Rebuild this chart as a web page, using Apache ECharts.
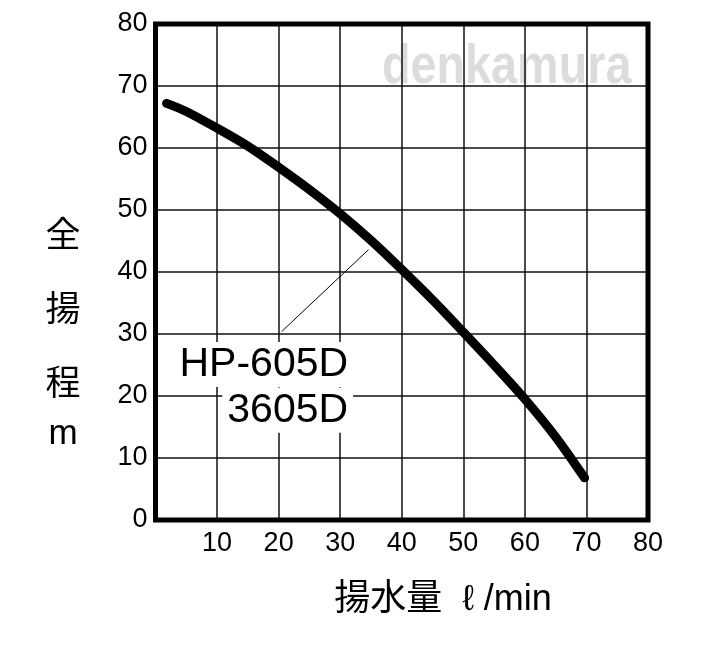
<!DOCTYPE html>
<html>
<head>
<meta charset="utf-8">
<script src="https://cdn.jsdelivr.net/npm/echarts@6/dist/echarts.min.js"></script>
<style>
  html, body { margin: 0; padding: 0; background: #fff; }
  #main { width: 720px; height: 648px; }
</style>
</head>
<body>
<div id="main"></div>
<script>
  // 揚水量 (l/min) と 全揚程 (m) の性能曲線
  const flowRates = [1.8, 5, 10, 15, 20, 25, 30, 35, 40, 45, 50, 55, 60, 65, 69.7];
  const headValues = [67.2, 65.9, 63.2, 60.3, 56.9, 53.3, 49.4, 45.1, 40.4, 35.5, 30.3, 25.0, 19.5, 13.4, 6.8];
  const axisTicks = [0, 10, 20, 30, 40, 50, 60, 70, 80];
  const modelLabels = ['HP-605D', '3605D'];
  const labelAnchors = [[32.1, 25.1], [32.1, 17.7]];
  const leaderLine = [[34.6, 43.6], [20.5, 30.4]];
  const yNameChars = ['全', '揚', '程', 'm'];
  const xName = '揚水量  ℓ /min';
  const watermark = 'denkamura';

  const numFont = 'Liberation Sans, Arial, sans-serif';
  const cjkFont = 'Liberation Sans, Noto Sans CJK JP, sans-serif';

  let myChart = echarts.init(document.getElementById('main'));

  let curve = flowRates.map((x, i) => [x, headValues[i]]);
  let yNameY = [237, 311, 385, 434];

  let option = {
    animation: false,
    backgroundColor: '#fff',
    grid: {
      left: 155.5,
      right: 72,
      top: 24,
      bottom: 128,
      show: true,
      borderColor: '#000',
      borderWidth: 5,
      z: 3
    },
    xAxis: {
      type: 'value',
      min: axisTicks[0],
      max: axisTicks[axisTicks.length - 1],
      interval: 10,
      axisLine: { show: false },
      axisTick: { show: false },
      axisLabel: {
        margin: 10,
        fontSize: 27,
        color: '#000',
        fontFamily: numFont,
        formatter: v => (v === 0 ? '' : String(v))
      },
      splitLine: { lineStyle: { color: '#111', width: 1.5 } }
    },
    yAxis: {
      type: 'value',
      min: axisTicks[0],
      max: axisTicks[axisTicks.length - 1],
      interval: 10,
      axisLine: { show: false },
      axisTick: { show: false },
      axisLabel: {
        margin: 8,
        fontSize: 27,
        color: '#000',
        fontFamily: numFont
      },
      splitLine: { lineStyle: { color: '#111', width: 1.5 } }
    },
    graphic: [
      {
        type: 'text',
        z: -10,
        x: 382,
        y: 40,
        scaleX: 0.85,
        style: {
          text: watermark,
          font: 'bold 55px "Liberation Sans", Arial, sans-serif',
          fill: '#dcdcdc',
          align: 'left',
          verticalAlign: 'top'
        }
      },
      ...yNameChars.map((c, i) => ({
        type: 'text',
        x: 63,
        y: yNameY[i],
        style: {
          text: c,
          font: '35px ' + cjkFont,
          fill: '#000',
          align: 'center',
          verticalAlign: 'middle'
        }
      })),
      {
        type: 'text',
        x: 443,
        y: 600,
        style: {
          text: xName,
          font: '36px ' + cjkFont,
          fill: '#000',
          align: 'center',
          verticalAlign: 'middle'
        }
      }
    ],
    series: [
      {
        type: 'line',
        data: curve,
        smooth: 0.3,
        symbol: 'none',
        z: 5,
        lineStyle: { color: '#000', width: 9, cap: 'round' },
        markLine: {
          silent: true,
          symbol: 'none',
          animation: false,
          lineStyle: { color: '#000', width: 1, type: 'solid' },
          label: { show: false },
          data: [[{ coord: leaderLine[0] }, { coord: leaderLine[1] }]]
        },
        markPoint: {
          silent: true,
          symbol: 'circle',
          symbolSize: 0,
          data: modelLabels.map((t, i) => ({
            coord: labelAnchors[i],
            value: t,
            label: {
              show: true,
              position: [0, 0],
              align: 'right',
              verticalAlign: 'middle',
              formatter: t,
              fontSize: 41,
              fontFamily: numFont,
              color: '#000',
              backgroundColor: '#fff',
              padding: [2, 5, 2, 5]
            }
          }))
        }
      }
    ]
  };

  myChart.setOption(option);
</script>
</body>
</html>
